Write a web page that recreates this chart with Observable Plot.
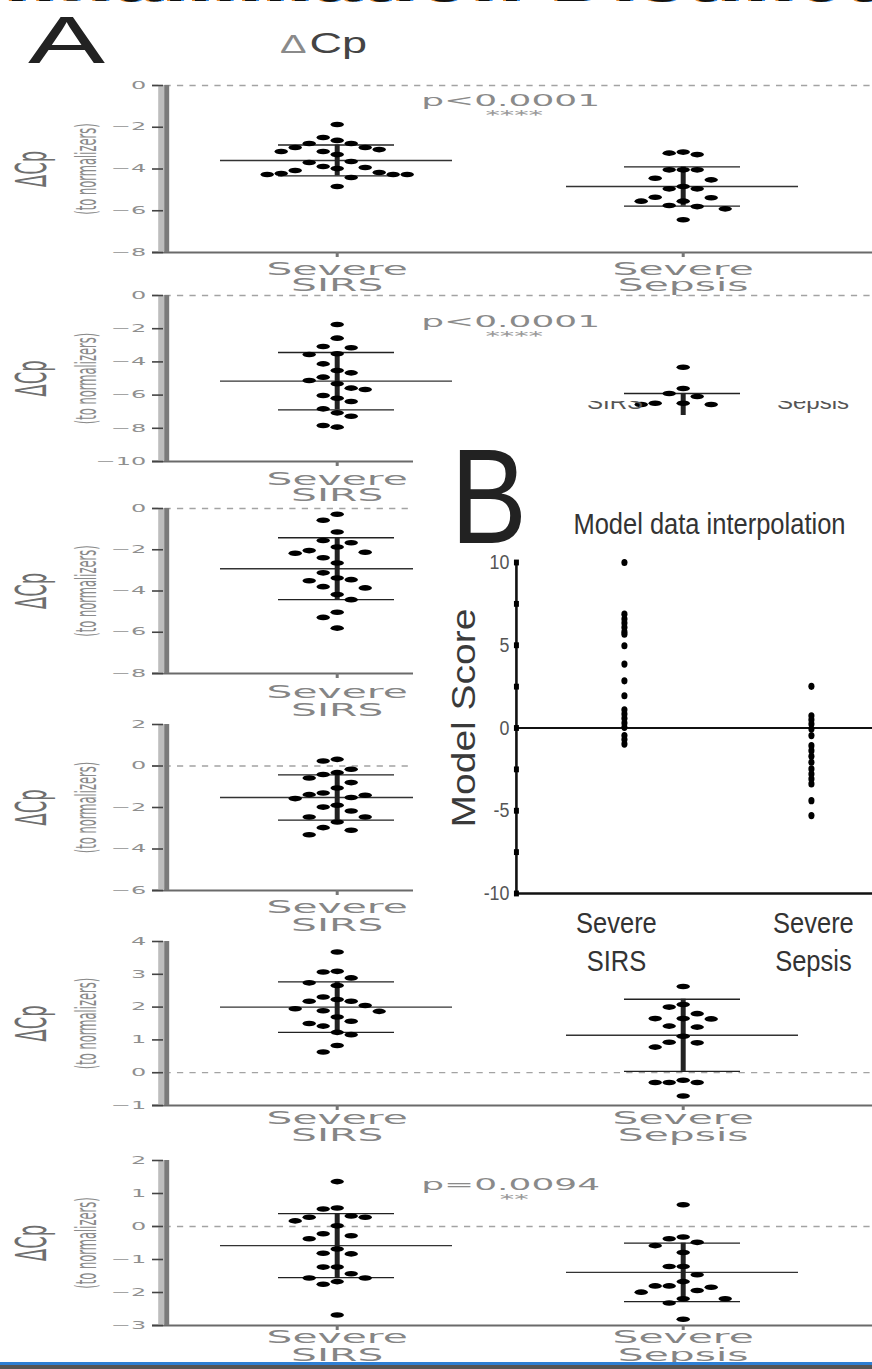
<!DOCTYPE html>
<html>
<head>
<meta charset="utf-8">
<script src="https://cdn.jsdelivr.net/npm/d3@7"></script>
<script src="https://cdn.jsdelivr.net/npm/@observablehq/plot@0.6"></script>
<style>
  body { margin: 0; background: #fff; }
  #page { position: relative; width: 872px; height: 1369px; overflow: hidden; background: #fff;
          font-family: "Liberation Sans", Arial, sans-serif; }
  .abs { position: absolute; white-space: nowrap; }
</style>
</head>
<body>
<div id="page"></div>
<script>
// ---------------- DATA ----------------
const groups = ["Severe SIRS", "Severe Sepsis"];

// panel A tick values
const p1Ticks = [0, -2, -4, -6, -8];
const p2Ticks = [0, -2, -4, -6, -8, -10];
const p3Ticks = [0, -2, -4, -6, -8];
const p4Ticks = [2, 0, -2, -4, -6];
const p5Ticks = [4, 3, 2, 1, 0, -1];
const p6Ticks = [2, 1, 0, -1, -2, -3];

// panel A ΔCp values per patient
const p1Sirs = [-1.87,-2.49,-2.63,-2.78,-2.78,-2.97,-2.97,-3.07,-3.16,-3.16,-3.31,-3.64,-3.69,-3.88,-3.93,-3.98,-4.07,-4.17,-4.22,-4.26,-4.26,-4.26,-4.41,-4.84];
const p1Sepsis = [-3.19,-3.24,-3.31,-4.04,-4.04,-4.04,-4.44,-4.52,-4.84,-4.95,-4.95,-5.35,-5.38,-5.54,-5.54,-5.75,-5.80,-5.91,-6.43];
const p2Sirs = [-1.75,-2.57,-3.07,-3.15,-3.51,-3.55,-4.12,-4.52,-4.66,-4.92,-5.12,-5.32,-5.58,-5.66,-6.02,-6.19,-6.39,-6.83,-7.07,-7.27,-7.83,-7.93];
const p2Sepsis = [-4.32,-5.60,-5.90,-6.08,-6.49,-6.49,-6.57,-6.57];
const p3Sirs = [-0.28,-0.57,-1.14,-1.55,-1.66,-1.87,-2.04,-2.12,-2.17,-2.39,-2.64,-3.12,-3.37,-3.45,-3.50,-3.79,-3.85,-4.17,-4.42,-5.03,-5.28,-5.80];
const p4Sirs = [0.32,0.24,-0.16,-0.32,-0.41,-0.58,-0.80,-1.06,-1.30,-1.38,-1.41,-1.52,-1.57,-1.89,-1.98,-2.17,-2.46,-2.46,-2.70,-2.97,-3.10,-3.31];
const p5Sirs = [3.68,3.09,3.07,2.89,2.74,2.66,2.31,2.23,2.18,2.18,2.05,1.95,1.89,1.87,1.70,1.57,1.50,1.42,1.23,1.16,0.83,0.63];
const p5Sepsis = [2.63,2.08,2.00,1.80,1.65,1.65,1.64,1.42,1.39,1.11,0.93,0.91,0.78,-0.23,-0.30,-0.30,-0.30,-0.71];
const p6Sirs = [1.36,0.56,0.53,0.32,0.28,0.28,0.17,0.02,-0.22,-0.28,-0.37,-0.68,-0.81,-0.83,-1.23,-1.23,-1.43,-1.56,-1.56,-1.67,-1.75,-2.68];
const p6Sepsis = [0.66,-0.32,-0.37,-0.48,-0.58,-0.79,-1.21,-1.21,-1.46,-1.67,-1.80,-1.80,-1.84,-1.94,-1.99,-2.19,-2.19,-2.32,-2.81];

// mean ± SD as drawn, per panel
const meanSirs   = [-3.59, -5.16, -2.92, -1.52, 2.00, -0.58];
const sdSirs     = [0.74, 1.73, 1.50, 1.09, 0.77, 0.97];
const meanSepsis = [-4.84, -7.30, null, null, 1.14, -1.39];
const sdSepsis   = [0.94, 1.40, null, null, 1.10, 0.885];

const pTexts = ["p<0.0001", "p<0.0001", null, null, null, "p=0.0094"];
const pStars = ["****", "****", null, null, null, "**"];

// panel B model scores
const bTicks = [-10, -7.5, -5, -2.5, 0, 2.5, 5, 7.5, 10];
const bTickLabels = [-10, -5, 0, 5, 10];
const bSirs = [10.0,6.88,6.58,6.34,6.08,5.81,5.67,4.97,3.86,2.85,1.95,1.10,0.84,0.58,0.30,0.04,-0.46,-0.70,-0.97];
const bSepsis = [2.52,0.74,0.50,0.24,-0.06,-0.46,-1.07,-1.37,-1.71,-2.07,-2.47,-2.78,-3.08,-3.38,-4.39,-5.29];
const bTitle = "Model data interpolation";
const bYLabel = "Model Score";

// ---------------- LAYOUT ----------------
const page = document.getElementById("page");
const K = 2.4;             // horizontal stretch of panel A artwork
const PW = 872;
const WC = PW / K;
const CX = [336, 682];     // group centres (page px)
const SLOT = 14, GAP = 13; // scatter arrangement
const famA = "DejaVu Sans";

function place(values, cx, pxPerUnit) {
  const placed = [];
  [...values].sort((a, b) => b - a).forEach(v => {
    const yy = -v * pxPerUnit;
    for (let k = 0; k < 60; k++) {
      const s = k === 0 ? 0 : (k % 2 ? -Math.ceil(k / 2) : k / 2);
      if (!placed.some(p => p.s === s && Math.abs(p.yy - yy) < GAP)) { placed.push({s, yy, v}); break; }
    }
  });
  return placed.map(p => ({x: cx + p.s * SLOT, value: p.v}));
}

function addDiv(html, css) {
  const d = document.createElement("div");
  d.className = "abs";
  d.innerHTML = html;
  Object.assign(d.style, css);
  page.appendChild(d);
  return d;
}

const panelCfg = [
  {top: 75,   h: 225, yTop: 85,   yBot: 252,  ticks: p1Ticks, series: [p1Sirs, p1Sepsis], lab: [22, 38], pY: 101,  sY: 115},
  {top: 290,  h: 215, yTop: 295,  yBot: 461,  ticks: p2Ticks, series: [p2Sirs, p2Sepsis], lab: [23, 39], pY: 322,  sY: 336},
  {top: 500,  h: 220, yTop: 508,  yBot: 673,  ticks: p3Ticks, series: [p3Sirs, null],     lab: [24, 42]},
  {top: 715,  h: 220, yTop: 724,  yBot: 890,  ticks: p4Ticks, series: [p4Sirs, null],     lab: [22, 40]},
  {top: 930,  h: 215, yTop: 941,  yBot: 1105, ticks: p5Ticks, series: [p5Sirs, p5Sepsis], lab: [18, 35]},
  {top: 1150, h: 219, yTop: 1160, yBot: 1325, ticks: p6Ticks, series: [p6Sirs, p6Sepsis], lab: [17, 35], pY: 1185, sY: 1199}
];

function panelA(cfg, i) {
  const ymax = d3.max(cfg.ticks), ymin = d3.min(cfg.ticks);
  const ppu = (cfg.yBot - cfg.yTop) / (ymax - ymin);
  const val = py => ymax - (py - cfg.yTop) / ppu;
  const pts = [];
  cfg.series.forEach((vals, g) => { if (vals) pts.push(...place(vals, CX[g], ppu)); });
  const summ = [];
  if (meanSirs[i] != null) summ.push({cx: CX[0], m: meanSirs[i], s: sdSirs[i]});
  if (meanSepsis[i] != null) summ.push({cx: CX[1], m: meanSepsis[i], s: sdSepsis[i]});
  const labels = groups.map((g, j) => ({cx: CX[j], l1: g.split(" ")[0], l2: g.split(" ")[1]}));
  const mid = (ymin + ymax) / 2;
  const svg = Plot.plot({
    width: WC, height: cfg.h,
    x: {type: "linear", domain: [0, PW], range: [0, WC], axis: null},
    y: {type: "linear", domain: [ymin, ymax], range: [cfg.yBot - cfg.top, cfg.yTop - cfg.top], axis: null},
    style: {fontFamily: famA, background: "transparent", overflow: "visible"},
    marks: [
      Plot.ruleY([0], {x1: 152, x2: 870, stroke: "#a3a3a3", strokeWidth: 1.3, strokeDasharray: "2.6 2.6"}),
      Plot.ruleY([ymin], {x1: 152, x2: 872, stroke: "#6a6a6a", strokeWidth: 2}),
      Plot.ruleX([160], {y1: ymin, y2: ymax, stroke: "#bdbdbd", strokeWidth: 6 / K}),
      Plot.ruleX([165.5], {y1: ymin, y2: ymax, stroke: "#7a7a7a", strokeWidth: 5 / K}),
      Plot.ruleY(cfg.ticks, {x1: 152, x2: 163, stroke: "#444", strokeWidth: 1.6}),
      Plot.text(cfg.ticks, {x: 145, y: d => d, text: d => (d < 0 ? "\u2212" : "") + Math.abs(d),
        textAnchor: "end", fontSize: 10, fill: "#8f8f8f"}),
      Plot.ruleX(CX, {y1: ymin, y2: val(cfg.yBot + 5), stroke: "#777", strokeWidth: 3 / K}),
      Plot.ruleY(summ, {y: "m", x1: d => d.cx - 116, x2: d => d.cx + 116, stroke: "#333", strokeWidth: 1.4}),
      Plot.ruleY(summ, {y: d => d.m + d.s, x1: d => d.cx - 58, x2: d => d.cx + 58, stroke: "#222", strokeWidth: 1.4}),
      Plot.ruleY(summ, {y: d => d.m - d.s, x1: d => d.cx - 58, x2: d => d.cx + 58, stroke: "#222", strokeWidth: 1.4}),
      Plot.ruleX(summ, {x: "cx", y1: d => d.m - d.s, y2: d => d.m + d.s, stroke: "#222", strokeWidth: 5 / K}),
      Plot.dot(pts, {x: "x", y: "value", r: 2.8, fill: "#000"}),
      Plot.text(labels, {x: "cx", y: ymin, dy: cfg.lab[0], text: "l1", lineAnchor: "bottom", fontSize: 17, fill: "#858585"}),
      Plot.text(labels, {x: "cx", y: ymin, dy: cfg.lab[1], text: "l2", lineAnchor: "bottom", fontSize: 17, fill: "#858585"}),
      Plot.text(["\u0394Cp"], {x: 31, y: mid, rotate: -90, fontSize: 18, fill: "#6e6e6e"}),
      Plot.text(["(to normalizers)"], {x: 86, y: mid, rotate: -90, fontSize: 11.5, fill: "#8a8a8a"}),
      pTexts[i] ? Plot.text([pTexts[i]], {x: 420, y: val(cfg.pY), textAnchor: "start", fontSize: 15, fill: "#8a8a8a"}) : null,
      pStars[i] ? Plot.text([pStars[i]], {x: 513, y: val(cfg.sY), fontSize: 12, fill: "#9a9a9a"}) : null
    ]
  });
  svg.setAttribute("preserveAspectRatio", "none");
  Object.assign(svg.style, {position: "absolute", left: "0px", top: cfg.top + "px",
    width: PW + "px", height: cfg.h + "px", maxWidth: "none"});
  page.appendChild(svg);
}

// top strip: cropped slide title (only the bottom of the glyphs shows)
addDiv("Inflammation Distinct Disease", {left: "-20px", top: "-66px", fontSize: "80px", lineHeight: "80px",
  fontWeight: "bold", color: "#111", textShadow: "-3px 0 #e8892b, 3px 0 #2d8ff0", letterSpacing: "4px"});

// header
addDiv("A", {left: "28px", top: "7px", fontSize: "66px", lineHeight: "66px", color: "#222",
  transform: "scaleX(1.75)", transformOrigin: "0 0"});
addDiv('<span style="font-size:26.5px;color:#8a8a8a">\u0394</span><span style="color:#444;margin-left:2px">Cp</span>',
  {left: "280px", top: "28px", fontSize: "30px", lineHeight: "30px", transform: "scaleX(1.5)", transformOrigin: "0 0"});

panelCfg.forEach((c, i) => panelA(c, i));

// labels peeking out under panel A2
const peek = addDiv("", {left: "0px", top: "401px", width: "872px", height: "14px", overflow: "hidden"});
[["SIRS", 587], ["Sepsis", 777]].forEach(([t, x]) => {
  const s = document.createElement("div");
  s.className = "abs";
  s.textContent = t;
  Object.assign(s.style, {left: x + "px", top: "-9px", fontSize: "20px", lineHeight: "20px", color: "#555",
    transform: "scaleX(1.2)", transformOrigin: "0 0"});
  peek.appendChild(s);
});

// ---------------- PANEL B ----------------
(function panelB() {
  const SX = 0.85, L = 413, T = 415, R = 872, B = 983;
  const BW = R - L, BH = B - T, WB = BW / SX;
  const yTop = 562 - T, yBot = 893 - T;
  const ppu = (yBot - yTop) / 20;
  const valB = py => 10 - (py - T - yTop) / ppu;
  const cxB = [624, 811], labX = [616, 813];
  const pts = [...bSirs.map(v => ({x: cxB[0], v})), ...bSepsis.map(v => ({x: cxB[1], v}))];
  const labs = groups.map((g, j) => ({x: labX[j], l1: g.split(" ")[0], l2: g.split(" ")[1]}));
  const box = addDiv("", {left: L + "px", top: T + "px", width: BW + "px", height: BH + "px", background: "#fff", overflow: "visible"});
  const svg = Plot.plot({
    width: WB, height: BH,
    x: {type: "linear", domain: [L, R], range: [0, WB], axis: null},
    y: {type: "linear", domain: [-10, 10], range: [yBot, yTop], axis: null},
    style: {fontFamily: "Liberation Sans, Arial, sans-serif", background: "transparent", overflow: "visible"},
    marks: [
      Plot.text(["B"], {x: 450, y: valB(542), textAnchor: "start", lineAnchor: "bottom", fontSize: 135, fill: "#222"}),
      Plot.text([bTitle], {x: 573, y: valB(533), textAnchor: "start", lineAnchor: "bottom", fontSize: 30, fill: "#333"}),
      Plot.text([bYLabel], {x: 475, y: valB(717.5), rotate: -90, lineAnchor: "bottom", fontSize: 39, fill: "#3a3a3a"}),
      Plot.ruleY([0], {x1: 516, x2: R, stroke: "#111", strokeWidth: 2}),
      Plot.ruleY([-10], {x1: 516, x2: R, stroke: "#111", strokeWidth: 2.6}),
      Plot.ruleX([516], {y1: -10, y2: 10, stroke: "#111", strokeWidth: 2.6 / SX}),
      Plot.dot(bTicks, {x: 516, y: d => d, symbol: "square", r: 3.3, fill: "#000"}),
      Plot.text(bTickLabels, {x: 509, y: d => d, text: d => String(d), textAnchor: "end", fontSize: 21, fill: "#555"}),
      Plot.dot(pts, {x: "x", y: "v", r: 3.6, fill: "#000"}),
      Plot.text(labs, {x: "x", y: -10, dy: 39, text: "l1", lineAnchor: "bottom", fontSize: 30, fill: "#333"}),
      Plot.text(labs, {x: "x", y: -10, dy: 77, text: "l2", lineAnchor: "bottom", fontSize: 30, fill: "#333"})
    ]
  });
  svg.setAttribute("preserveAspectRatio", "none");
  Object.assign(svg.style, {position: "absolute", left: "0px", top: "0px", width: BW + "px", height: BH + "px", maxWidth: "none"});
  box.appendChild(svg);
})();

// bottom slide border
addDiv("", {left: "0px", top: "1362px", width: "872px", height: "3px", background: "#2e7fd3"});
addDiv("", {left: "0px", top: "1365px", width: "872px", height: "4px", background: "#555"});
</script>
</body>
</html>
